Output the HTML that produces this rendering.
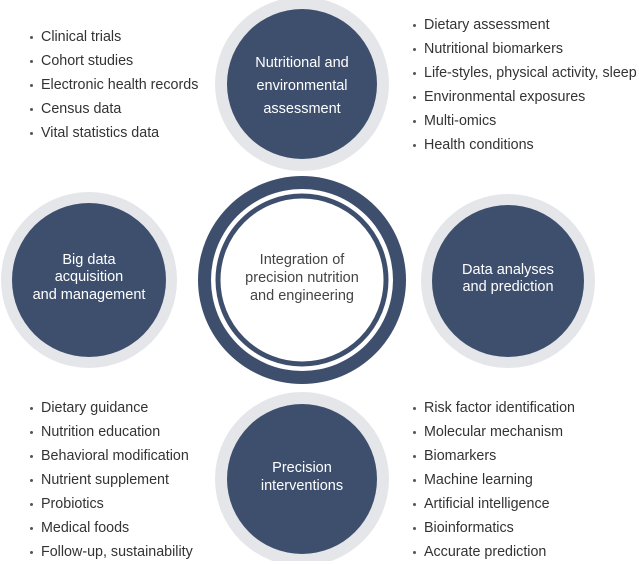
<!DOCTYPE html>
<html><head><meta charset="utf-8"><style>
body{margin:0;width:639px;height:561px;background:#fff;overflow:hidden;position:relative;font-family:"Liberation Sans",sans-serif;}
ul{position:absolute;margin:0;padding:0;list-style:none;font-size:14.3px;color:#333;white-space:nowrap;}
li{height:24px;line-height:24px;position:relative;padding-left:0;}
li:before{content:"";position:absolute;left:-11px;top:11px;width:3px;height:3px;border-radius:50%;background:#555;}
</style></head><body>
<svg width="639" height="561" style="position:absolute;left:0;top:0" font-family="Liberation Sans, sans-serif">
<g fill="#e5e6e9">
<circle cx="302" cy="84" r="87"/><circle cx="89" cy="280" r="88"/><circle cx="508" cy="281" r="87"/><circle cx="302" cy="479" r="87"/>
</g>
<g fill="#3e4f6e">
<circle cx="302" cy="84" r="75"/><circle cx="89" cy="280" r="77"/><circle cx="508" cy="281" r="76"/><circle cx="302" cy="479" r="75"/>
<circle cx="302" cy="280" r="104"/>
</g>
<circle cx="302" cy="280" r="91" fill="#fff"/>
<circle cx="302" cy="280" r="84" fill="none" stroke="#3e4f6e" stroke-width="5"/>
<g fill="#fff" font-size="14.5" text-anchor="middle">
<text x="302" y="67">Nutritional and</text><text x="302" y="90">environmental</text><text x="302" y="113">assessment</text>
<text x="89" y="264">Big data</text><text x="89" y="281">acquisition</text><text x="89" y="299">and management</text>
<text x="508" y="274">Data analyses</text><text x="508" y="291">and prediction</text>
<text x="302" y="472">Precision</text><text x="302" y="490">interventions</text>
</g>
<g fill="#444" font-size="14.5" text-anchor="middle">
<text x="302" y="264">Integration of</text><text x="302" y="282">precision nutrition</text><text x="302" y="300">and engineering</text>
</g>
</svg>
<ul style="left:41px;top:25px"><li>Clinical trials</li><li>Cohort studies</li><li>Electronic health records</li><li>Census data</li><li>Vital statistics data</li></ul>
<ul style="left:424px;top:13px"><li>Dietary assessment</li><li>Nutritional biomarkers</li><li>Life-styles, physical activity, sleep</li><li>Environmental exposures</li><li>Multi-omics</li><li>Health conditions</li></ul>
<ul style="left:41px;top:396px"><li>Dietary guidance</li><li>Nutrition education</li><li>Behavioral modification</li><li>Nutrient supplement</li><li>Probiotics</li><li>Medical foods</li><li>Follow-up, sustainability</li></ul>
<ul style="left:424px;top:396px"><li>Risk factor identification</li><li>Molecular mechanism</li><li>Biomarkers</li><li>Machine learning</li><li>Artificial intelligence</li><li>Bioinformatics</li><li>Accurate prediction</li></ul>
</body></html>
